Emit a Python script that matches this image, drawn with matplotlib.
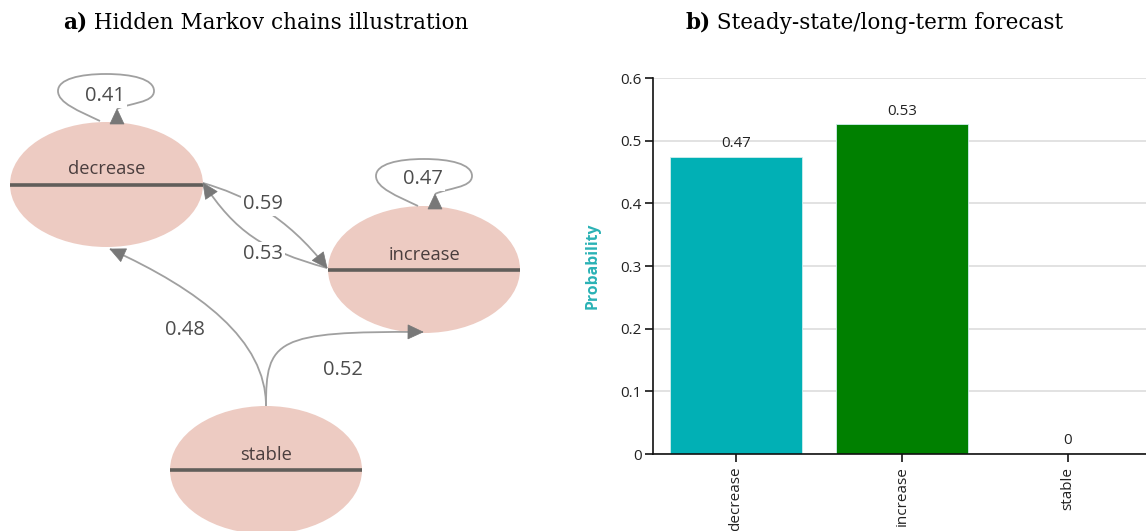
import numpy as np
import matplotlib
matplotlib.use("Agg")
import matplotlib.pyplot as plt
from matplotlib.patches import Ellipse, Polygon, PathPatch
from matplotlib.path import Path

plt.rcParams['font.family'] = ['Open Sans', 'DejaVu Sans']

# data
states = ['decrease', 'increase', 'stable']
steady_probs = [0.474, 0.526, 0.0]
steady_labels = ['0.47', '0.53', '0']
bar_colors = ['#01b0b5', '#008000', '#7f7f7f']

trans_from = ['decrease', 'decrease', 'increase', 'increase', 'stable', 'stable']
trans_to = ['decrease', 'increase', 'decrease', 'increase', 'decrease', 'increase']
trans_prob = [0.41, 0.59, 0.53, 0.47, 0.48, 0.52]

# diagram layout (pixel units of the left panel, y down)
node_xy = {'decrease': (106.5, 184.5), 'increase': (424, 269.5), 'stable': (266, 470)}
node_wh = {'decrease': (193, 125), 'increase': (192, 127), 'stable': (192, 128)}


def loop_pts(x0, y0):
    # teardrop self loop, (x0, y0) = apex of the arrow head
    pts = [(-17, 12), (-38, 2), (-59, -6), (-59, -18),
           (-59, -30), (-37, -35), (-11, -35),
           (15, -35), (37, -30), (37, -18),
           (37, -6), (12, -6), (0, 0)]
    return [(x0 + a, y0 + b) for a, b in pts]


# bezier control points, arrow tip direction, label position
edge_geom = {
    ('decrease', 'decrease'): (loop_pts(117, 109), (0, -1), (105, 96)),
    ('increase', 'increase'): (loop_pts(435, 194), (0, -1), (423, 179)),
    ('decrease', 'increase'): ([(203, 183), (244, 195), (286, 215), (327, 268)], None, (263, 204)),
    ('increase', 'decrease'): ([(327, 268), (262, 250), (236, 232), (203, 183)], None, (263, 254)),
    ('stable', 'decrease'): ([(266, 406), (266, 340), (200, 290), (110, 249)], None, (185, 330)),
    ('stable', 'increase'): ([(266, 406), (266, 340), (275, 331), (423, 332)], None, (343, 370)),
}

W, H = 1146, 531
fig = plt.figure(figsize=(W / 100, H / 100), dpi=100)

line_col = '#a0a0a0'
head_col = '#787878'


def arrow_head(ax, tip, direction, length=15, width=14):
    d = np.array(direction, float)
    d /= np.linalg.norm(d)
    n = np.array([-d[1], d[0]])
    tip = np.array(tip, float)
    base = tip - d * length
    pts = [tip, base + n * width / 2, base - n * width / 2]
    ax.add_patch(Polygon(pts, closed=True, facecolor=head_col, edgecolor=head_col,
                         lw=0.5, zorder=4))


# ---- a) diagram ----
ax_a = fig.add_axes([0, 0, 560 / W, 1])
ax_a.set_xlim(0, 560)
ax_a.set_ylim(H, 0)
ax_a.axis('off')

for s in states:
    cx, cy = node_xy[s]
    w, h = node_wh[s]
    ax_a.add_patch(Ellipse((cx, cy), w, h, facecolor='#edcbc2', edgecolor='none', zorder=1))
    ax_a.plot([cx - w / 2, cx + w / 2], [cy, cy], color='#615e5a', lw=2.6, zorder=2,
              solid_capstyle='butt')
    ax_a.text(cx, cy - 15, s, ha='center', va='center', fontsize=13.2, color='#4a3e3e', zorder=3)

for f, t, p in zip(trans_from, trans_to, trans_prob):
    pts, d, lab = edge_geom[(f, t)]
    codes = [Path.MOVETO] + [Path.CURVE4] * (len(pts) - 1)
    ax_a.add_patch(PathPatch(Path(pts, codes), facecolor='none', edgecolor=line_col,
                             lw=1.3, zorder=2))
    if d is None:
        d = np.array(pts[-1]) - np.array(pts[-2])
    arrow_head(ax_a, pts[-1], d)
    ax_a.text(lab[0], lab[1], f'{p:.2f}', ha='center', va='center', fontsize=14.5,
              color='#4d4d4d', zorder=5,
              bbox=dict(boxstyle='square,pad=0.1', facecolor='white', edgecolor='none'))

# ---- b) steady state bars ----
ax_b = fig.add_axes([653 / W, (H - 454) / H, 498 / W, 376 / H])
x = np.arange(len(states))
ax_b.bar(x, steady_probs, width=0.8, color=bar_colors, edgecolor='#cfeeee', linewidth=0.6, zorder=2)
ax_b.set_xlim(-0.5, 2.5)
ax_b.set_ylim(0, 0.6)
ax_b.set_yticks(np.arange(0, 0.61, 0.1))
ax_b.set_yticklabels(['0', '0.1', '0.2', '0.3', '0.4', '0.5', '0.6'])
ax_b.set_xticks(x)
ax_b.set_xticklabels(states, rotation=90, va='top')
ax_b.grid(axis='y', color='#dddddd', lw=1.2)
ax_b.set_axisbelow(True)
for side in ['top', 'right']:
    ax_b.spines[side].set_visible(False)
for side in ['left', 'bottom']:
    ax_b.spines[side].set_linewidth(1.2)
    ax_b.spines[side].set_color('#111111')
ax_b.tick_params(axis='y', length=6, width=1.1, pad=2, labelsize=11, labelcolor='#222222')
ax_b.tick_params(axis='x', length=6, width=1.1, pad=3, labelsize=11, labelcolor='#222222')
ax_b.set_ylabel('Probability', color='#2ab2b5', fontweight='bold', fontsize=11.3)
ax_b.yaxis.set_label_coords(-0.106, 0.5)

for xi, v, lab in zip(x, steady_probs, steady_labels):
    ax_b.annotate(lab, (xi, v), xytext=(0, 4), textcoords='offset points',
                  ha='center', va='bottom', fontsize=10.8, color='#222222')

# titles
for x0, tag, rest in [(63, 'a)', ' Hidden Markov chains illustration'),
                      (685, 'b)', ' Steady-state/long-term forecast')]:
    t1 = fig.text(x0 / W, (H - 23) / H, tag, fontweight='bold', fontsize=15.5,
                  family='DejaVu Serif', va='center')
    ax_a.annotate(rest, xy=(1, 0), xycoords=t1, va='bottom', fontsize=15.5,
                  family='DejaVu Serif', annotation_clip=False)

fig.savefig('out.png', dpi=100)
